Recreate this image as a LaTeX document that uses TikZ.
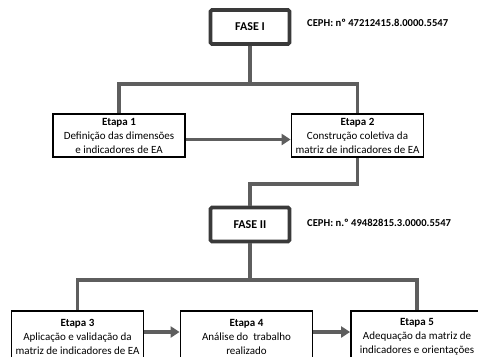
\documentclass[tikz,border=0pt]{standalone}
\usepackage{fontspec}
\setmainfont{Carlito}
\usetikzlibrary{arrows.meta}
\definecolor{connGray}{HTML}{5E5E5E}
\definecolor{faseGray}{HTML}{3A3A3A}
\begin{document}
\begin{tikzpicture}[x=1pt,y=-1pt,
  conn/.style={draw=connGray,line width=3.5pt},
  arr/.style={conn,-{Triangle[length=9pt,width=11pt]}},
  etapa/.style={draw=black,line width=1.8pt,fill=white,minimum width=132pt,minimum height=43pt,align=center,inner sep=0pt,font=\fontsize{11}{14}\selectfont},
  fase/.style={draw=faseGray,line width=3.8pt,rounded corners=1.5pt,fill=white,minimum width=79pt,minimum height=34pt,inner sep=0pt,font=\bfseries\fontsize{12}{14}\selectfont},
  ceph/.style={anchor=west,inner sep=0pt,font=\bfseries\fontsize{10.6}{12}\selectfont}]
\useasboundingbox (0,0) rectangle (478,356);
\fill[white] (0,0) rectangle (478,356);
\clip (0,0) rectangle (478,356);
% junctions
\coordinate (j1) at (250,84);
\coordinate (j2) at (250,184);
\coordinate (j3) at (250,280);
% nodes
\node[fase] (f1) at (250,27) {FASE I};
\node[ceph] (c1) at (307,23) {CEPH: nº 47212415.8.0000.5547};
\node[etapa] (e1) at (119,135.5) {\textbf{Etapa 1}\\Definição das dimensões\\e indicadores de EA};
\node[etapa] (e2) at (357.5,135.5) {\textbf{Etapa 2}\\Construção coletiva da\\matriz de indicadores de EA};
\node[fase] (f2) at (250,224.5) {FASE II};
\node[ceph] (c2) at (307,223) {CEPH: n.º 49482815.3.0000.5547};
\node[etapa,minimum height=52pt] (e3) at (77.5,337) {\textbf{Etapa 3}\\Aplicação e validação da\\matriz de indicadores de EA};
\node[etapa,minimum height=52pt] (e4) at (246.5,337) {\textbf{Etapa 4}\\Análise do\ \ trabalho\\realizado};
\node[etapa,minimum height=52pt] (e5) at (417,337) {\textbf{Etapa 5}\\Adequação da matriz de\\indicadores e orientações};
% connectors
\draw[conn] (f1.south) -- (j1);
\draw[conn] (e1.north) |- (j1) -| (e2.north);
\draw[conn] (e2.south) |- (j2) -- (f2.north);
\draw[conn] (f2.south) -- (j3);
\draw[conn] (e3.north) |- (j3) -| (e5.north);
\draw[arr] ([yshift=-4pt]e1.east) -- ([yshift=-4pt]e2.west);
\draw[arr] ([yshift=5pt]e3.east) -- ([yshift=5pt]e4.west);
\draw[arr] ([yshift=5pt]e4.east) -- ([yshift=5pt]e5.west);
\end{tikzpicture}
\end{document}
